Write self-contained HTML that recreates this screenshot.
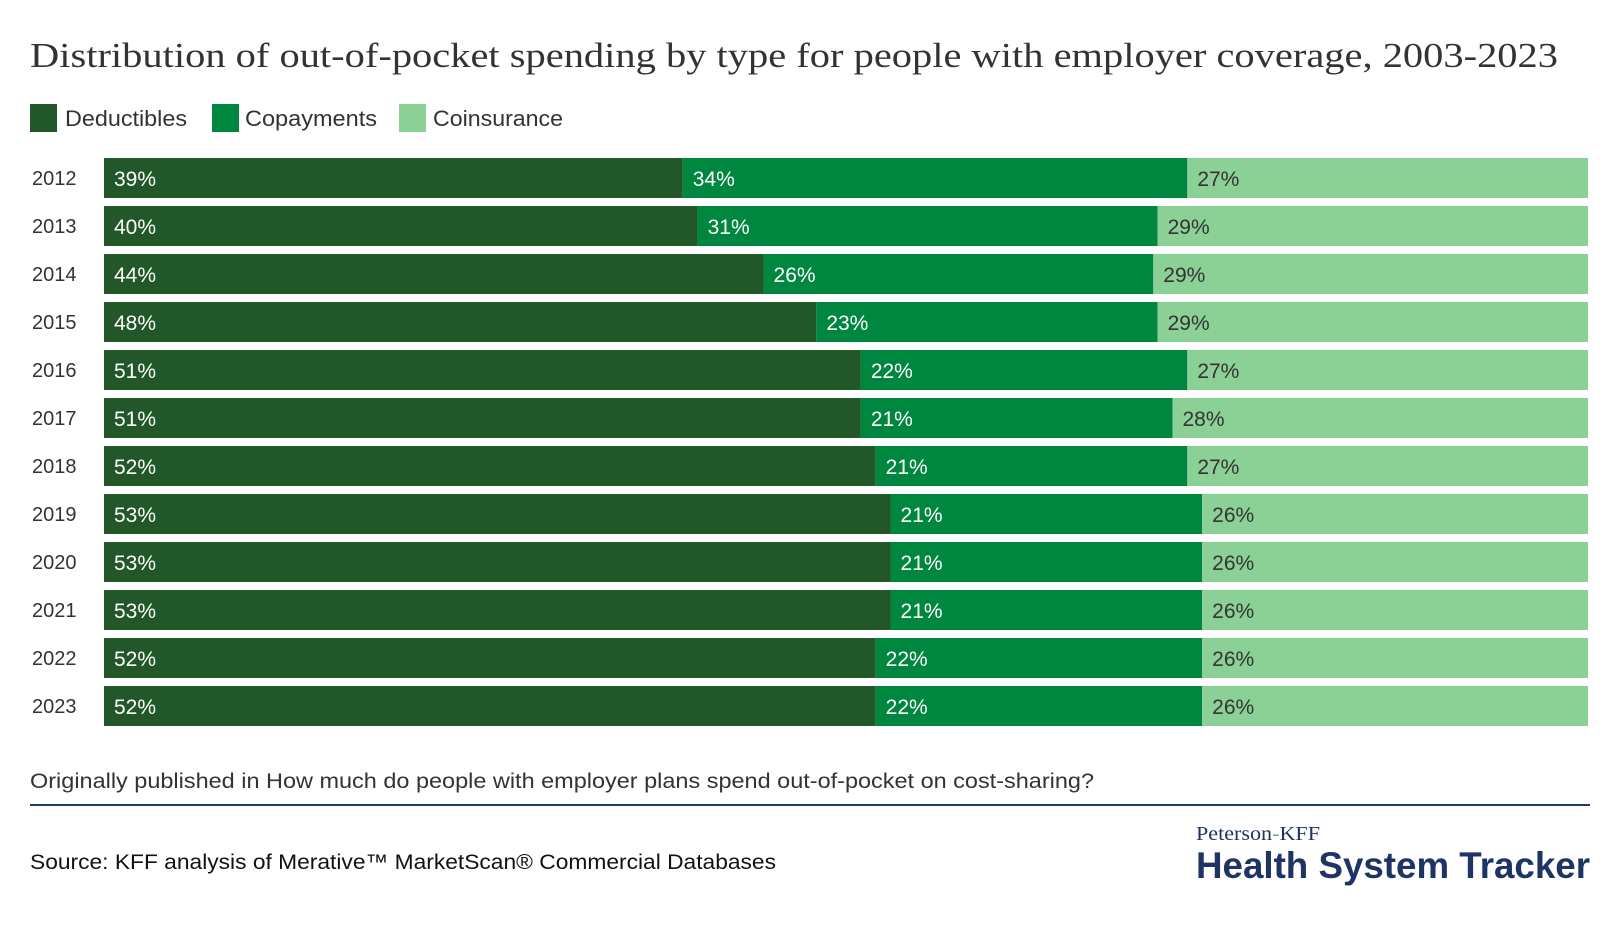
<!DOCTYPE html>
<html><head><meta charset="utf-8"><style>
html,body{margin:0;padding:0;background:#fff;width:1620px;height:944px;overflow:hidden}
svg{display:block}
.sans{font-family:"Liberation Sans","DejaVu Sans",sans-serif}
.serif{font-family:"Liberation Serif","DejaVu Serif",serif}
</style></head><body>
<svg id="chart" class="sans" width="1620" height="944" viewBox="0 0 1620 944">
<text class="serif" x="30" y="67" font-size="35" fill="#333" textLength="1528" lengthAdjust="spacingAndGlyphs">Distribution of out-of-pocket spending by type for people with employer coverage, 2003-2023</text>
<g>
<g><rect x="30" y="104" width="27" height="28" fill="#22572a"/><text x="65" y="126" font-size="22" fill="#333" textLength="122" lengthAdjust="spacingAndGlyphs">Deductibles</text></g>
<g><rect x="212" y="104" width="27" height="28" fill="#00873f"/><text x="245" y="126" font-size="22" fill="#333" textLength="132" lengthAdjust="spacingAndGlyphs">Copayments</text></g>
<g><rect x="399" y="104" width="27" height="28" fill="#8bd094"/><text x="433" y="126" font-size="22" fill="#333" textLength="130" lengthAdjust="spacingAndGlyphs">Coinsurance</text></g>
</g>
<g id="bars"></g>
<text x="30" y="788" font-size="21" fill="#333" textLength="1064" lengthAdjust="spacingAndGlyphs">Originally published in How much do people with employer plans spend out-of-pocket on cost-sharing?</text>
<rect x="30" y="804" width="1560" height="2" fill="#1f3a6e"/>
<text x="30" y="869" font-size="21" fill="#111" textLength="746" lengthAdjust="spacingAndGlyphs">Source: KFF analysis of Merative™ MarketScan® Commercial Databases</text>
<text class="serif" x="1196" y="840" font-size="20" fill="#1e3464" textLength="124" lengthAdjust="spacingAndGlyphs">Peterson<tspan fill="#5cb85c">-</tspan>KFF</text>
<text x="1196" y="878" font-size="37" font-weight="bold" fill="#1e3464" textLength="394" lengthAdjust="spacingAndGlyphs">Health System Tracker</text>
</svg>
<script>
const years = ["2012","2013","2014","2015","2016","2017","2018","2019","2020","2021","2022","2023"];
const deductibles = [39,40,44,48,51,51,52,53,53,53,52,52];
const copayments = [34,31,26,23,22,21,21,21,21,21,22,22];
const coinsurance = [27,29,29,29,27,28,27,26,26,26,26,26];
const seriesNames = ["deductibles","copayments","coinsurance"];
const colors = ["#22572a","#00873f","#8bd094"];
const labelColors = ["#fff","#fff","#333"];
const X0 = 104, W = 1484, Y0 = 158, PITCH = 48, BH = 40;
const xScale = v => X0 + v / 100 * W;
const yScale = i => Y0 + i * PITCH;
const NS = "http://www.w3.org/2000/svg";
const g = document.getElementById("bars");
const series = [deductibles, copayments, coinsurance];
years.forEach((yr, i) => {
  const y = yScale(i);
  const lab = document.createElementNS(NS, "text");
  lab.setAttribute("x", 32); lab.setAttribute("y", y + BH/2 + 7);
  lab.setAttribute("font-size", "20"); lab.setAttribute("fill", "#333");
  
  
  lab.textContent = yr; g.appendChild(lab);
  const total = deductibles[i] + copayments[i] + coinsurance[i];
  let cum = 0;
  series.forEach((s, k) => {
    const v = s[i] / total * 100;
    const x1 = xScale(cum), x2 = xScale(cum + v);
    const r = document.createElementNS(NS, "rect");
    r.setAttribute("x", x1); r.setAttribute("y", y);
    r.setAttribute("width", x2 - x1); r.setAttribute("height", BH);
    r.setAttribute("fill", colors[k]);
    
    
    g.appendChild(r);
    const t = document.createElementNS(NS, "text");
    t.setAttribute("x", x1 + 10); t.setAttribute("y", y + BH/2 + 8);
    t.setAttribute("font-size", "21"); t.setAttribute("fill", labelColors[k]);
    
    
    t.textContent = s[i] + "%"; g.appendChild(t);
    cum += v;
  });
});
</script>
</body></html>
